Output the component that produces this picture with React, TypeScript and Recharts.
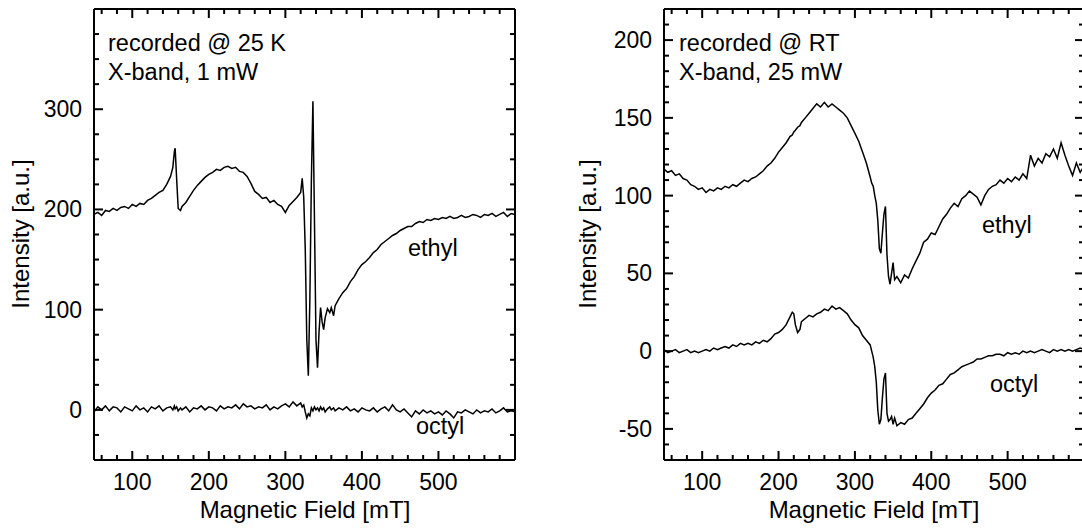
import React from 'react'
import { LineChart, Line, XAxis, YAxis, Customized } from 'recharts'

// EPR spectra, left: 25 K / 1 mW, right: RT / 25 mW
const LEFT_FIELD = [
  50, 55, 60, 65, 70, 75, 80, 85, 90, 95,
  100, 105, 110, 115, 120, 125, 130, 135, 140, 145,
  150, 153, 155, 156, 158, 160, 163, 165, 170, 175,
  180, 185, 190, 195, 200, 205, 210, 215, 220, 225,
  230, 235, 240, 245, 250, 255, 260, 265, 270, 275,
  280, 285, 290, 295, 300, 305, 310, 315, 320, 322,
  324, 326, 328, 330, 332, 334, 336, 338, 340, 342,
  344, 346, 348, 350, 352, 355, 358, 360, 363, 365,
  370, 375, 380, 385, 390, 395, 400, 405, 410, 415,
  420, 425, 430, 435, 440, 445, 450, 455, 460, 465,
  470, 475, 480, 485, 490, 495, 500, 505, 510, 515,
  520, 525, 530, 535, 540, 545, 550, 555, 560, 565,
  570, 575, 580, 585, 590, 595, 600,
]
const LEFT_ETHYL = [
  195, 197, 194, 199, 198, 201, 199, 202, 203, 201,
  205, 203, 206, 205, 209, 211, 214, 217, 219, 225,
  233, 242, 258, 261, 230, 201, 199, 203, 207, 213,
  219, 224, 228, 232, 235, 237, 240, 239, 242, 243,
  241, 242, 238, 237, 233, 226, 218, 215, 211, 212,
  207, 209, 205, 203, 197, 204, 208, 212, 217, 231,
  212, 160, 70, 34, 110, 230, 308, 190, 70, 42,
  78, 102, 88, 80, 92, 101, 97, 102, 94, 104,
  111, 117, 121, 128, 133, 140, 145, 148, 152, 157,
  160, 165, 168, 171, 174, 176, 179, 181, 183, 183,
  186, 188, 187, 190, 189, 191, 190, 192, 191, 193,
  191, 192, 194, 192, 193, 195, 194, 192, 195, 194,
  196, 193, 195, 197, 193, 196, 195,
]
const LEFT_OCTYL = [
  -2, 3, 0, 4, -1, 3, 2, -2, 3, 1,
  -1, 4, 0, 2, -2, 3, 1, 4, -1, 2,
  3, 0, 4, 1, 3, -1, 2, 0, 3, -2,
  2, 1, 4, 0, 3, 2, -1, 4, 1, 3,
  2, 5, 1, 6, 3, 4, 1, 3, 2, 5,
  0, 3, 1, 4, 6, 3, 8, 4, 7, 3,
  5, -2, -8, -4, -6, 2, -1, 3, 0, 2,
  -1, 3, 0, 2, -2, 1, 3, 0, 2, -1,
  2, 0, 3, -1, 1, -2, 2, 0, -1, 2,
  -2, 1, 3, -1, 5, 0, -2, 1, -3, -7,
  -1, -4, 0, -3, -1, -4, -2, -5, -1, -4,
  -8, -2, -3, 0, -2, -4, 0, -3, -1, -2,
  1, -3, -1, 2, -2, -1, -2,
]

const RIGHT_FIELD = [
  50, 55, 60, 65, 70, 75, 80, 85, 90, 95,
  100, 105, 110, 115, 120, 125, 130, 135, 140, 145,
  150, 155, 160, 165, 170, 175, 180, 185, 190, 195,
  200, 205, 210, 215, 218, 220, 222, 225, 228, 230,
  235, 240, 245, 250, 255, 260, 265, 270, 275, 280,
  285, 290, 295, 300, 305, 310, 315, 320, 322, 324,
  326, 328, 330, 332, 334, 336, 338, 340, 342, 344,
  346, 348, 350, 352, 355, 360, 365, 370, 375, 380,
  385, 390, 395, 400, 405, 410, 415, 420, 425, 430,
  435, 440, 445, 450, 455, 460, 465, 470, 475, 480,
  485, 490, 495, 500, 505, 510, 515, 520, 525, 530,
  535, 540, 545, 550, 555, 560, 565, 570, 575, 580,
  585, 590, 595, 600,
]
const RIGHT_ETHYL = [
  117, 115, 116, 113, 114, 111, 110, 107, 106, 104,
  105, 102, 104, 103, 105, 104, 106, 105, 107, 106,
  108, 110, 109, 111, 112, 114, 116, 119, 121, 124,
  128, 131, 134, 138, 139, 141, 142, 144, 145, 147,
  150, 153, 156, 159, 157, 160, 157, 159, 157, 155,
  153, 150, 145, 140, 135, 128, 121, 112, 108, 106,
  100, 95, 84, 66, 63, 76, 88, 93, 62, 48,
  43, 50, 57, 46, 48, 44, 49, 47, 53, 58,
  63, 70, 72, 76, 75, 80, 85, 88, 92, 95,
  93, 98, 100, 103, 101, 99, 94, 100, 104, 106,
  107, 110, 108, 111, 109, 112, 110, 114, 111, 126,
  119, 124, 121, 127, 125, 130, 124, 134, 126, 119,
  113, 121, 115, 119,
]
const RIGHT_OCTYL = [
  1, -1, 0, 1, -1, 0, 1, -1, 0, -1,
  0, 1, 0, 2, 1, 2, 3, 2, 4, 3,
  5, 4, 5, 4, 6, 5, 7, 6, 8, 11,
  12, 14, 17, 22, 25, 24, 17, 12, 14, 19,
  21, 23, 22, 24, 25, 27, 26, 29, 27, 28,
  26, 24, 20, 17, 15, 10, 7, 4, 0, -4,
  -10, -20, -38, -47, -44, -30, -18, -14, -40, -45,
  -44, -42, -47, -43, -48, -46, -47, -44, -43, -40,
  -37, -34, -30, -27, -25, -22, -21, -18, -15, -14,
  -12, -10, -9, -8, -7, -5, -5, -4, -3, -3,
  -2, -2, -3, -1, -2, -1, -2, 0, -1, 0,
  -1, 0, 1, 0, -1, 1, 0, 1, 0, 1,
  0, 1, 2, 1,
]

const X_TICKS = [60, 80, 100, 120, 140, 160, 180, 200, 220, 240, 260, 280, 300, 320, 340, 360, 380, 400, 420, 440, 460, 480, 500, 520, 540, 560, 580]
const X_LABELS = [100, 200, 300, 400, 500]
const LEFT_Y_TICKS = [-25, 0, 25, 50, 75, 100, 125, 150, 175, 200, 225, 250, 275, 300, 325, 350, 375]
const LEFT_Y_LABELS = [0, 100, 200, 300]
const RIGHT_Y_TICKS = [-60, -50, -40, -30, -20, -10, 0, 10, 20, 30, 40, 50, 60, 70, 80, 90, 100, 110, 120, 130, 140, 150, 160, 170, 180, 190, 200, 210]
const RIGHT_Y_LABELS = [-50, 0, 50, 100, 150, 200]

const FONT = '"Liberation Sans", Arial, sans-serif'

const leftData = LEFT_FIELD.map((field, i) => ({ field, ethyl: LEFT_ETHYL[i], octyl: LEFT_OCTYL[i] }))
const rightData = RIGHT_FIELD.map((field, i) => ({ field, ethyl: RIGHT_ETHYL[i], octyl: RIGHT_OCTYL[i] }))

// ticks point into the frame, labels only on bottom/left
function FrameTick(props: any) {
  const { x, y, payload, side, labels } = props
  const v = payload.value
  const major = labels.includes(v)
  const len = major ? 9 : 5
  let x2 = x
  let y2 = y
  if (side === 'bottom') y2 = y - len
  if (side === 'top') y2 = y + len
  if (side === 'left') x2 = x + len
  if (side === 'right') x2 = x - len
  return (
    <g>
      <line x1={x} y1={y} x2={x2} y2={y2} stroke="#000" strokeWidth={2} />
      {major && side === 'bottom' && (
        <text x={x} y={y + 30} textAnchor="middle" fontSize={23} fontFamily={FONT} fill="#000">{v}</text>
      )}
      {major && side === 'left' && (
        <text x={x - 12} y={y + 8} textAnchor="end" fontSize={23} fontFamily={FONT} fill="#000">{v}</text>
      )}
    </g>
  )
}

const axisLine = { stroke: '#000', strokeWidth: 2 }

// axes are 1px thick (0 would not render), margins are reduced by 1 to compensate
function Panel({ data, yDomain, yTicks, yLabels, margin, width, notes }: any) {
  return (
    <LineChart width={width} height={529} data={data} margin={margin}>
      <XAxis xAxisId="b" type="number" dataKey="field" domain={[50, 600]} allowDataOverflow ticks={X_TICKS} interval={0}
        orientation="bottom" height={1} tickSize={0} tickMargin={0} axisLine={axisLine} tickLine={false}
        tick={(p: any) => <FrameTick {...p} side="bottom" labels={X_LABELS} />} />
      <XAxis xAxisId="t" type="number" dataKey="field" domain={[50, 600]} allowDataOverflow ticks={X_TICKS} interval={0}
        orientation="top" height={1} tickSize={0} tickMargin={0} axisLine={axisLine} tickLine={false}
        tick={(p: any) => <FrameTick {...p} side="top" labels={X_LABELS} />} />
      <YAxis yAxisId="l" type="number" domain={yDomain} allowDataOverflow ticks={yTicks} interval={0}
        orientation="left" width={1} tickSize={0} tickMargin={0} axisLine={axisLine} tickLine={false}
        tick={(p: any) => <FrameTick {...p} side="left" labels={yLabels} />} />
      <YAxis yAxisId="r" type="number" domain={yDomain} allowDataOverflow ticks={yTicks} interval={0}
        orientation="right" width={1} tickSize={0} tickMargin={0} axisLine={axisLine} tickLine={false}
        tick={(p: any) => <FrameTick {...p} side="right" labels={yLabels} />} />
      <Line xAxisId="b" yAxisId="l" type="linear" dataKey="ethyl" stroke="#000" strokeWidth={1.5} dot={false} isAnimationActive={false} />
      <Line xAxisId="b" yAxisId="l" type="linear" dataKey="octyl" stroke="#000" strokeWidth={1.5} dot={false} isAnimationActive={false} />
      <Customized component={notes} />
    </LineChart>
  )
}

const txt = { fontFamily: FONT, fill: '#000' }

function LeftNotes() {
  return (
    <g>
      <text x={108} y={51} fontSize={23.5} {...txt}>recorded @ 25 K</text>
      <text x={108} y={80} fontSize={23.5} {...txt}>X-band, 1 mW</text>
      <text x={408} y={256} fontSize={23.5} {...txt}>ethyl</text>
      <text x={416} y={434} fontSize={23.5} {...txt}>octyl</text>
      <text transform="translate(29,234) rotate(-90)" textAnchor="middle" fontSize={24} {...txt}>Intensity [a.u.]</text>
      <text x={305} y={518} textAnchor="middle" fontSize={24} {...txt}>Magnetic Field [mT]</text>
    </g>
  )
}

function RightNotes() {
  return (
    <g>
      <text x={138} y={51} fontSize={23.5} {...txt}>recorded @ RT</text>
      <text x={138} y={80} fontSize={23.5} {...txt}>X-band, 25 mW</text>
      <text x={441} y={233} fontSize={23.5} {...txt}>ethyl</text>
      <text x={449} y={392} fontSize={23.5} {...txt}>octyl</text>
      <text transform="translate(55,234) rotate(-90)" textAnchor="middle" fontSize={24} {...txt}>Intensity [a.u.]</text>
      <text x={333} y={518} textAnchor="middle" fontSize={24} {...txt}>Magnetic Field [mT]</text>
    </g>
  )
}

export default function App() {
  return (
    <div style={{ position: 'absolute', left: 0, top: 0, width: 1082, height: 529, overflow: 'hidden', background: '#fff' }}>
      <div style={{ position: 'absolute', left: 0, top: 0 }}>
        <Panel data={leftData} width={541} yDomain={[-50, 400]} yTicks={LEFT_Y_TICKS} yLabels={LEFT_Y_LABELS}
          margin={{ top: 8, right: 25, bottom: 68, left: 93 }} notes={LeftNotes} />
      </div>
      <div style={{ position: 'absolute', left: 541, top: 0 }}>
        <Panel data={rightData} width={560} yDomain={[-70, 220]} yTicks={RIGHT_Y_TICKS} yLabels={RIGHT_Y_LABELS}
          margin={{ top: 8, right: 16, bottom: 68, left: 122 }} notes={RightNotes} />
      </div>
    </div>
  )
}
